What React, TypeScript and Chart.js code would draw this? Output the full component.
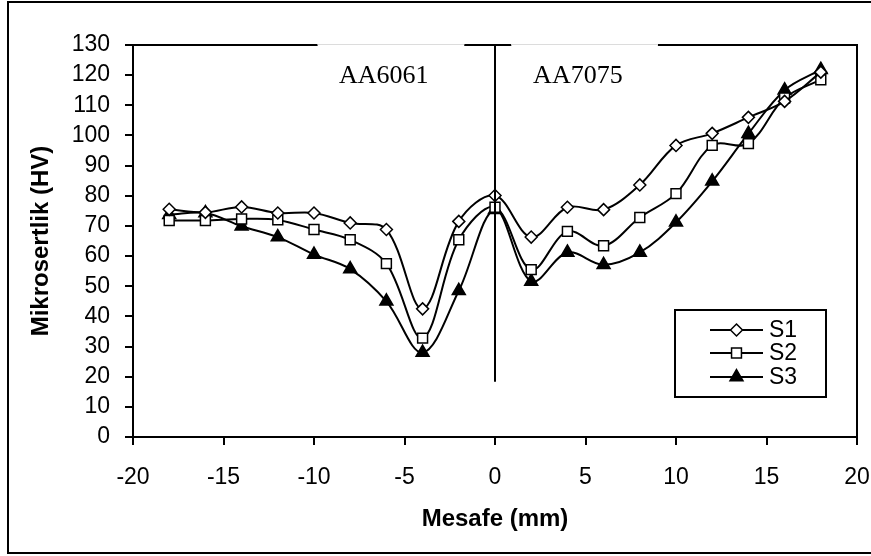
import React, { useEffect, useRef } from 'react';
import { Chart, registerables } from 'chart.js';

Chart.register(...registerables);

// ---- data ----
const distances = [-18, -16, -14, -12, -10, -8, -6, -4, -2, 0, 2, 4, 6, 8, 10, 12, 14, 16, 18];
const s1Values = [75.5, 74.5, 76.3, 74.3, 74.3, 71, 68.8, 42.5, 71.5, 80.1, 66.3, 76.2, 75.4, 83.6, 96.7, 100.7, 106, 111.3, 121];
const s2Values = [71.8, 71.8, 72.3, 72, 68.8, 65.4, 57.5, 32.8, 65.4, 76.2, 55.5, 68.2, 63.4, 72.8, 80.7, 96.7, 97.3, 112.4, 118.5];
const s3Values = [73.7, 74.3, 69.9, 66.3, 60.5, 55.7, 45, 28, 48.5, 75.4, 51.6, 61.2, 57.1, 61.2, 71.2, 84.8, 100.6, 115, 121.8];
const seriesNames = ['S1', 'S2', 'S3'];
const regionLabels = ['AA6061', 'AA7075'];
const xTitle = 'Mesafe (mm)';
const yTitle = 'Mikrosertlik (HV)';
const xMin = -20, xMax = 20, xStep = 5;
const yMin = 0, yMax = 130, yStep = 10;
const dividerX = 0;
const dividerBottom = 18.3;

const W = 871, H = 556;

type Marker = { style: 'diamond' | 'square' | 'triangle'; fill: string; r: number };
const markers: Marker[] = [
  { style: 'diamond', fill: '#fff', r: 6 },
  { style: 'square', fill: '#fff', r: 7 },
  { style: 'triangle', fill: '#000', r: 7.5 },
];

function drawMarker(ctx: CanvasRenderingContext2D, m: Marker, x: number, y: number) {
  ctx.beginPath();
  if (m.style === 'diamond') {
    ctx.moveTo(x, y - m.r); ctx.lineTo(x + m.r, y); ctx.lineTo(x, y + m.r); ctx.lineTo(x - m.r, y); ctx.closePath();
  } else if (m.style === 'square') {
    const s = m.r * Math.SQRT1_2;
    ctx.rect(x - s, y - s, 2 * s, 2 * s);
  } else {
    const r = m.r;
    ctx.moveTo(x, y - r); ctx.lineTo(x + r * Math.sin(Math.PI / 3), y + r / 2); ctx.lineTo(x - r * Math.sin(Math.PI / 3), y + r / 2); ctx.closePath();
  }
  ctx.fillStyle = m.fill; ctx.fill();
  ctx.lineWidth = 1.5; ctx.strokeStyle = '#000'; ctx.stroke();
}

const decorPlugin = {
  id: 'decor',
  afterDraw(chart: any) {
    const { ctx, chartArea: a, scales } = chart;
    const xs = scales.x, ys = scales.y;
    ctx.save();
    // plot box top and right
    ctx.strokeStyle = '#000'; ctx.lineWidth = 2; ctx.lineCap = 'butt';
    ctx.beginPath();
    ctx.moveTo(a.left, a.top); ctx.lineTo(a.right, a.top); ctx.lineTo(a.right, a.bottom);
    ctx.stroke();
    // divider line
    const dx = Math.round(xs.getPixelForValue(dividerX));
    ctx.lineWidth = 2;
    ctx.beginPath();
    ctx.moveTo(dx, a.top); ctx.lineTo(dx, ys.getPixelForValue(dividerBottom));
    ctx.stroke();
    // region label boxes
    const boxes = [
      { x0: -9.8, x1: -1.7, cx: -6.15 },
      { x0: 0.9, x1: 9.0, cx: 4.58 },
    ];
    boxes.forEach((b, i) => {
      const p0 = xs.getPixelForValue(b.x0), p1 = xs.getPixelForValue(b.x1);
      ctx.fillStyle = '#fff';
      ctx.fillRect(p0, a.top - 2, p1 - p0, 6);
      ctx.strokeStyle = '#dcdcdc'; ctx.lineWidth = 1;
      ctx.beginPath(); ctx.moveTo(p0, a.top - 0.5); ctx.lineTo(p1, a.top - 0.5); ctx.stroke();
      ctx.fillStyle = '#000';
      ctx.font = '26px "Liberation Serif", "Times New Roman", serif';
      ctx.textAlign = 'center'; ctx.textBaseline = 'alphabetic';
      ctx.fillText(regionLabels[i], xs.getPixelForValue(b.cx), a.top + 38);
    });
    // legend
    const lx0 = a.right - 182, lx1 = a.right - 31, ly0 = a.bottom - 127, ly1 = a.bottom - 40;
    ctx.strokeStyle = '#000'; ctx.lineWidth = 2;
    ctx.fillStyle = '#fff';
    ctx.fillRect(lx0, ly0, lx1 - lx0, ly1 - ly0);
    ctx.strokeRect(lx0, ly0, lx1 - lx0, ly1 - ly0);
    const rowY = [ly0 + 20, ly0 + 43, ly0 + 67];
    seriesNames.forEach((name, i) => {
      const y = rowY[i];
      ctx.strokeStyle = '#000'; ctx.lineWidth = 2;
      ctx.beginPath(); ctx.moveTo(lx0 + 35, y); ctx.lineTo(lx0 + 88, y); ctx.stroke();
      drawMarker(ctx, markers[i], lx0 + 61.5, y);
      ctx.fillStyle = '#000';
      ctx.font = '23px "Liberation Sans", Arial, sans-serif';
      ctx.textAlign = 'left'; ctx.textBaseline = 'middle';
      ctx.fillText(name, lx0 + 94, y + 1);
    });
    // outer frame (left, top, bottom)
    ctx.strokeStyle = '#000'; ctx.lineWidth = 2;
    ctx.beginPath();
    ctx.moveTo(W, 2); ctx.lineTo(8, 2); ctx.lineTo(8, 553); ctx.lineTo(W, 553);
    ctx.stroke();
    ctx.restore();
  },
};

const pointStyles: any[] = ['rectRot', 'rect', 'triangle'];
const fontFamily = '"Liberation Sans", Arial, sans-serif';

export default function App() {
  const ref = useRef<HTMLCanvasElement>(null);
  useEffect(() => {
    if (!ref.current) return;
    const series = [s1Values, s2Values, s3Values];
    const chart = new Chart(ref.current, {
      type: 'line',
      data: {
        datasets: series.map((vals, i) => ({
          label: seriesNames[i],
          data: distances.map((d, j) => ({ x: d, y: vals[j] })),
          borderColor: '#000',
          borderWidth: 2,
          tension: 0.35,
          pointStyle: pointStyles[i],
          pointRadius: markers[i].r,
          pointBackgroundColor: markers[i].fill,
          pointBorderColor: '#000',
          pointBorderWidth: 1.5,
          fill: false,
        })),
      },
      options: {
        responsive: false,
        animation: false,
        events: [],
        layout: { padding: { top: 45, right: 14, left: 0, bottom: 0 } },
        plugins: { legend: { display: false }, tooltip: { enabled: false } },
        scales: {
          x: {
            type: 'linear',
            min: xMin, max: xMax,
            ticks: { stepSize: xStep, autoSkip: false, color: '#000', padding: 19, maxRotation: 0, font: { size: 23, family: fontFamily, lineHeight: 1.2 } },
            grid: { drawOnChartArea: false, drawTicks: true, tickLength: 8, color: '#000', lineWidth: 2 },
            border: { display: true, color: '#000', width: 2 },
            title: { display: true, text: xTitle, color: '#000', padding: { top: 0, bottom: 22 }, font: { size: 24, weight: 'bold', family: fontFamily, lineHeight: 1.2 } },
            afterFit: (s: any) => { s.height = 119; s.paddingLeft = 0; s.paddingRight = 0; },
          },
          y: {
            type: 'linear',
            min: yMin, max: yMax,
            ticks: { stepSize: yStep, autoSkip: false, color: '#000', padding: 15, font: { size: 23, family: fontFamily, lineHeight: 1.2 } },
            grid: { drawOnChartArea: false, drawTicks: true, tickLength: 8, color: '#000', lineWidth: 2 },
            border: { display: true, color: '#000', width: 2 },
            title: { display: true, text: yTitle, color: '#000', padding: { top: 27, bottom: 0 }, font: { size: 24, weight: 'bold', family: fontFamily, lineHeight: 1.2 } },
            afterFit: (s: any) => { s.width = 133; s.paddingTop = 0; s.paddingBottom = 0; },
          },
        },
      },
      plugins: [decorPlugin],
    });
    return () => chart.destroy();
  }, []);
  return (
    <div style={{ position: 'absolute', left: 0, top: 0, width: W, height: H, background: '#fff' }}>
      <canvas ref={ref} width={W} height={H} style={{ display: 'block', width: W, height: H }} />
    </div>
  );
}
